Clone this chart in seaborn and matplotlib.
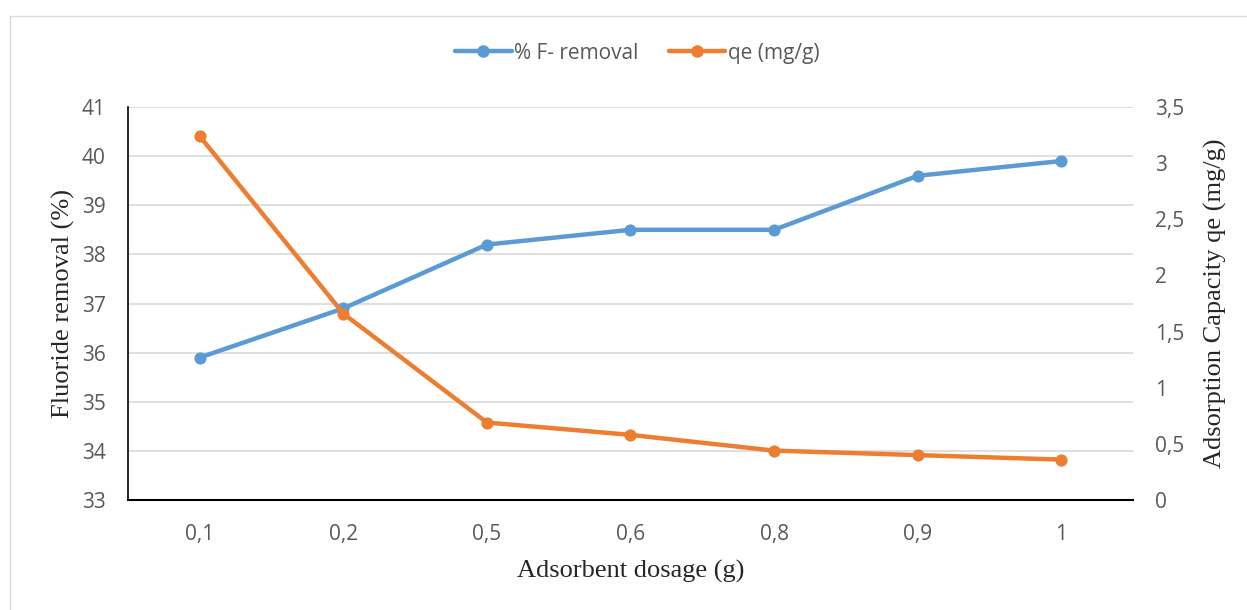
import matplotlib
matplotlib.use("Agg")
import matplotlib.pyplot as plt
import seaborn as sns
import pandas as pd
from matplotlib.patches import Rectangle
from matplotlib.lines import Line2D

dosage_labels = ["0,1", "0,2", "0,5", "0,6", "0,8", "0,9", "1"]
removal = [35.9, 36.9, 38.2, 38.5, 38.5, 39.6, 39.9]
qe = [3.24, 1.66, 0.69, 0.58, 0.44, 0.40, 0.36]
left_ticks = [33, 34, 35, 36, 37, 38, 39, 40, 41]
right_ticks = [0, 0.5, 1, 1.5, 2, 2.5, 3, 3.5]
right_labels = ["0", "0,5", "1", "1,5", "2", "2,5", "3", "3,5"]

blue = "#5B9BD5"
orange = "#ED7D31"
tick_color = "#595959"

sns.set_theme(style="white")
plt.rcParams["font.family"] = ["Open Sans", "DejaVu Sans"]

df = pd.DataFrame({"pos": range(len(dosage_labels)), "removal": removal, "qe": qe})

fig = plt.figure(figsize=(12.47, 6.1), dpi=100)
ax = fig.add_axes([0.1026, 0.1803, 0.806, 0.6443])
ax2 = ax.twinx()

ax.set_ylim(33, 41)
ax2.set_ylim(0, 3.5)
ax.set_xlim(-0.5, len(dosage_labels) - 0.5)

ax.set_yticks(left_ticks)
ax.set_yticklabels([str(t) for t in left_ticks])
ax2.set_yticks(right_ticks)
ax2.set_yticklabels(right_labels)
ax.set_xticks(range(len(dosage_labels)))
ax.set_xticklabels(dosage_labels)

for t in left_ticks[1:]:
    ax.axhline(t, color="#d9d9d9", lw=1.2, zorder=0)

sns.lineplot(data=df, x="pos", y="removal", ax=ax, color=blue, lw=3.2,
             marker="o", markersize=8, markeredgecolor=blue, zorder=3)
sns.lineplot(data=df, x="pos", y="qe", ax=ax2, color=orange, lw=3.2,
             marker="o", markersize=8, markeredgecolor=orange, zorder=3)

for a in (ax, ax2):
    for s in ("top", "right"):
        a.spines[s].set_visible(False)
    a.tick_params(length=0, labelsize=15, labelcolor=tick_color)
ax2.spines["left"].set_visible(False)
ax2.spines["bottom"].set_visible(False)
ax.spines["left"].set_color("black")
ax.spines["left"].set_linewidth(1.2)
ax.spines["bottom"].set_color("black")
ax.spines["bottom"].set_linewidth(1.5)
ax.tick_params(axis="y", pad=16)
ax.tick_params(axis="x", pad=17)
ax2.tick_params(axis="y", pad=16)

serif = ["Liberation Serif", "DejaVu Serif"]
ax.set_xlabel("Adsorbent dosage (g)", family=serif, fontsize=19, color="#262626", labelpad=11)
ax.set_ylabel("Fluoride removal (%)", family=serif, fontsize=19, color="#262626", labelpad=5)
ax2.set_ylabel("Adsorption Capacity qe (mg/g)", family=serif, fontsize=19, color="#262626", labelpad=14)

handles = [
    Line2D([], [], color=blue, lw=3.2, marker="o", markersize=8),
    Line2D([], [], color=orange, lw=3.2, marker="o", markersize=8),
]
fig.legend(handles, ["% F- removal", "qe (mg/g)"], loc="center", bbox_to_anchor=(0.511, 0.913),
           ncol=2, frameon=False, fontsize=15, handlelength=2.7, columnspacing=1.5,
           handletextpad=0.1, labelcolor=tick_color)

fig.patches.append(Rectangle((10 / 1247, -0.01), 1.0, (610 - 16) / 610 + 0.01,
                             transform=fig.transFigure, fill=False,
                             edgecolor="#d9d9d9", lw=1.0))

fig.savefig("out.png", dpi=100, facecolor="white")
